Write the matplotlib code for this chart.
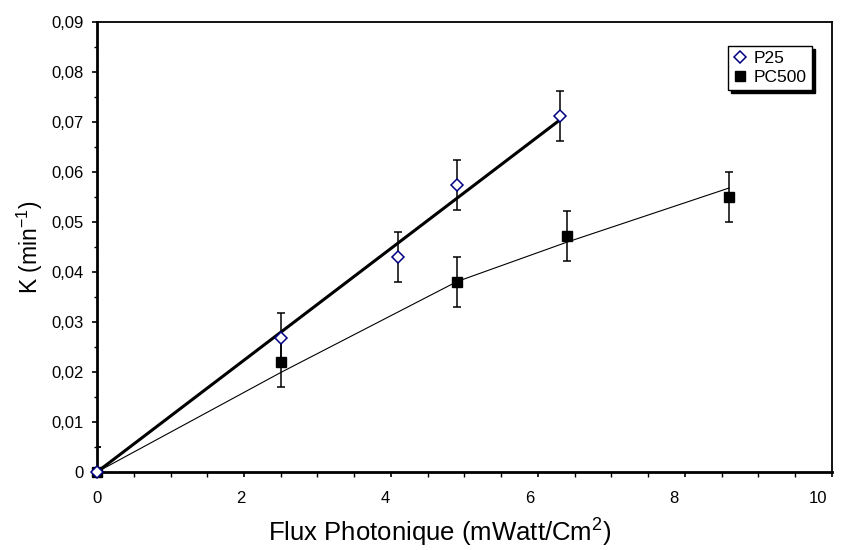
import matplotlib
matplotlib.use("Agg")
import matplotlib.pyplot as plt
from matplotlib.ticker import MultipleLocator, FuncFormatter, FixedLocator, NullLocator

plt.rcParams['font.family'] = ['Liberation Sans', 'DejaVu Sans']
plt.rcParams['mathtext.fontset'] = 'custom'
plt.rcParams['mathtext.rm'] = 'Liberation Sans'
plt.rcParams['mathtext.it'] = 'Liberation Sans:italic'
plt.rcParams['mathtext.bf'] = 'Liberation Sans:bold'

# Data
p25_x = [0, 2.5, 4.1, 4.9, 6.3]
p25_y = [0.0, 0.0268, 0.0431, 0.0575, 0.0712]
p25_err = [0.005, 0.005, 0.005, 0.005, 0.005]

pc500_x = [0, 2.5, 4.9, 6.4, 8.6]
pc500_y = [0.0, 0.0221, 0.0381, 0.0473, 0.0550]
pc500_err = [0.005, 0.005, 0.005, 0.005, 0.005]

# trend lines
p25_fit_x = [0, 6.3]
p25_fit_slope = 0.01118
pc500_fit_x = [0, 2.5, 4.9, 6.4, 8.6]
pc500_fit_y = [0.0, 0.0199, 0.0381, 0.0460, 0.0568]

x_tick_labels = [0, 2, 4, 6, 8, 10]
label_squeeze = 0.981  # tick labels in the source are drawn slightly compressed

W, H = 843, 550
fig = plt.figure(figsize=(W / 100, H / 100), dpi=100)
ax = fig.add_axes([97 / W, 1 - 472 / H, (832 - 97) / W, (472 - 22) / H])

ax.plot(p25_fit_x, [p25_fit_slope * v for v in p25_fit_x], color='black', lw=2.2, zorder=2)
ax.plot(pc500_fit_x, pc500_fit_y, color='black', lw=0.8, zorder=2)

ax.errorbar(pc500_x, pc500_y, yerr=pc500_err, fmt='none', ecolor='black',
            elinewidth=1.1, capsize=2.6, capthick=1.1, zorder=3)
ax.errorbar(p25_x, p25_y, yerr=p25_err, fmt='none', ecolor='black',
            elinewidth=1.1, capsize=2.6, capthick=1.1, zorder=3)

ax.plot(pc500_x, pc500_y, ls='none', marker='s', ms=7, mfc='black', mec='black',
        zorder=4, clip_on=False, label='PC500')
ax.plot(p25_x, p25_y, ls='none', marker='D', ms=6, mfc='white', mec='#000080',
        mew=1.1, zorder=5, clip_on=False, label='P25')

ax.set_xlim(0, 10)
ax.set_ylim(0, 0.09)
ax.xaxis.set_major_locator(MultipleLocator(2))
ax.xaxis.set_minor_locator(MultipleLocator(0.5))
ax.yaxis.set_major_locator(MultipleLocator(0.01))
ax.yaxis.set_minor_locator(MultipleLocator(0.005))

def yfmt(v, pos):
    if abs(v) < 1e-12:
        return '0'
    return ('%.2f' % v).replace('.', ',')

ax.yaxis.set_major_formatter(FuncFormatter(yfmt))

ax.tick_params(axis='y', which='major', direction='out', length=3.6, width=1.2,
               labelsize=12, pad=6, colors='black')
ax.tick_params(axis='y', which='minor', direction='out', length=2.2, width=1.0)
ax.tick_params(axis='x', which='major', direction='out', length=3.6, width=1.2,
               labelbottom=False)
ax.tick_params(axis='x', which='minor', direction='out', length=3.6, width=1.0)

# tick labels of x on a secondary scale (compressed as in the source)
sec = ax.secondary_xaxis('bottom', functions=(lambda v: v / label_squeeze,
                                              lambda v: v * label_squeeze))
sec.xaxis.set_major_locator(FixedLocator(x_tick_labels))
sec.xaxis.set_minor_locator(NullLocator())
sec.xaxis.set_major_formatter(FuncFormatter(lambda v, p: '%d' % round(v)))
sec.tick_params(axis='x', length=0, pad=14, labelsize=12)
sec.spines['bottom'].set_visible(False)

for s in ['left', 'bottom']:
    ax.spines[s].set_linewidth(2.0)
for s in ['top', 'right']:
    ax.spines[s].set_linewidth(1.3)

fig.text(440 / W, 1 - 533 / H, 'Flux Photonique (mWatt/Cm$^{\\mathregular{2}}$)',
         ha='center', va='center', fontsize=18.5)
fig.text(30 / W, 1 - 247 / H, 'K (min$^{\\mathregular{-1}}$)', ha='center', va='center',
         rotation=90, fontsize=16.5)

handles, labels = ax.get_legend_handles_labels()
order = [1, 0]
leg = fig.legend([handles[i] for i in order], [labels[i] for i in order],
                 loc='upper right', bbox_to_anchor=(812 / W, 1 - 46 / H),
                 frameon=True, fancybox=False, shadow={'color': 'black', 'alpha': 1},
                 fontsize=12.5, handlelength=0.8, handletextpad=0.4,
                 borderpad=0.3, labelspacing=0.2, borderaxespad=0)
leg.get_frame().set_edgecolor('black')
leg.get_frame().set_linewidth(1.0)

fig.savefig('out.png', dpi=100)
